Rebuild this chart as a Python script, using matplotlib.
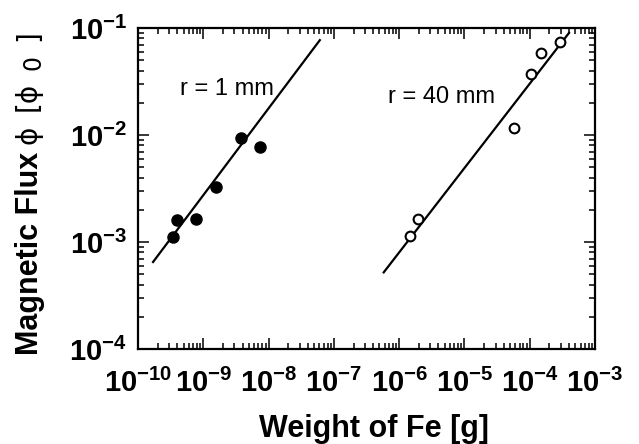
import matplotlib
matplotlib.use("Agg")
import matplotlib.pyplot as plt
from matplotlib.ticker import LogLocator, NullFormatter, FixedLocator

plt.rcParams['font.family'] = ['Liberation Sans', 'DejaVu Sans']
plt.rcParams['mathtext.fontset'] = 'custom'
plt.rcParams['mathtext.rm'] = 'Liberation Sans:bold'
plt.rcParams['mathtext.bf'] = 'Liberation Sans:bold'
plt.rcParams['mathtext.it'] = 'Liberation Sans:bold'

# data: r = 1 mm (filled circles)
w1 = [3.4e-10, 4.0e-10, 7.7e-10, 1.56e-9, 3.8e-9, 7.4e-9]
phi1 = [1.11e-3, 1.6e-3, 1.64e-3, 3.27e-3, 9.4e-3, 7.7e-3]
# fit line for r = 1 mm
fit1_w = [1.7e-10, 6.1e-8]
fit1_phi = [6.5e-4, 7.7e-2]

# data: r = 40 mm (open circles)
w40 = [1.46e-6, 1.94e-6, 5.7e-5, 1.04e-4, 1.48e-4, 2.9e-4]
phi40 = [1.14e-3, 1.64e-3, 1.16e-2, 3.7e-2, 5.8e-2, 7.4e-2]
fit40_w = [5.8e-7, 4.0e-4]
fit40_phi = [5.2e-4, 9.0e-2]

xticks = [1e-10, 1e-9, 1e-8, 1e-7, 1e-6, 1e-5, 1e-4, 1e-3]
xticklabels = [r'$10^{-10}$', r'$10^{-9}$', r'$10^{-8}$', r'$10^{-7}$',
               r'$10^{-6}$', r'$10^{-5}$', r'$10^{-4}$', r'$10^{-3}$']
yticks = [1e-4, 1e-3, 1e-2, 1e-1]
yticklabels = [r'$10^{-4}$', r'$10^{-3}$', r'$10^{-2}$', r'$10^{-1}$']

W, H = 639, 444
fig = plt.figure(figsize=(W/100, H/100), dpi=100)
ax = fig.add_axes([138/W, 1-349/H, (595-138)/W, (349-28)/H])
ax.set_xscale('log')
ax.set_yscale('log')
ax.set_xlim(1e-10, 1e-3)
ax.set_ylim(1e-4, 1e-1)

ax.plot(fit1_w, fit1_phi, color='black', lw=1.6)
ax.plot(fit40_w, fit40_phi, color='black', lw=1.6)
ax.plot(w1, phi1, 'o', color='black', ms=8, zorder=3)
ax.plot(w40, phi40, 'o', mfc='white', mec='black', mew=1.5, ms=7, zorder=3)

ax.text((180-138)/457, (349-89)/321, 'r = 1 mm', transform=ax.transAxes,
        fontsize=17, va='center', ha='left')
ax.text((388-138)/457, (349-97)/321, 'r = 40 mm', transform=ax.transAxes,
        fontsize=17, va='center', ha='left')

ax.xaxis.set_major_locator(FixedLocator(xticks))
ax.set_xticklabels(xticklabels)
ax.yaxis.set_major_locator(FixedLocator(yticks))
ax.set_yticklabels(yticklabels)
ax.xaxis.set_minor_locator(LogLocator(base=10, subs=range(2, 10), numticks=20))
ax.yaxis.set_minor_locator(LogLocator(base=10, subs=range(2, 10), numticks=20))
ax.xaxis.set_minor_formatter(NullFormatter())
ax.yaxis.set_minor_formatter(NullFormatter())

ax.tick_params(which='both', direction='in', top=True, right=True, width=1.1)
ax.tick_params(which='major', length=8, labelsize=21)
ax.tick_params(which='minor', length=4.5)
ax.tick_params(axis='x', which='major', pad=14)
ax.tick_params(axis='y', which='major', pad=8)
for s in ax.spines.values():
    s.set_linewidth(1.6)

# x label
fig.text(374/W, 1-429/H, 'Weight of Fe [g]', fontsize=22, fontweight='bold',
         ha='center', va='center')

# y label: bold part + regular symbol part
fig.text(30/W, 1-355/H, 'Magnetic Flux', rotation=90, fontsize=22,
         fontweight='bold', ha='center', va='bottom')
sym_parts = ['ϕ', '[ϕ', '0', ']']
sym_y = [135, 96, 63, 36]
sym_x = [28, 28, 33, 28]
sym_size = [20, 20, 17, 20]
for s, yy, xx, fs in zip(sym_parts, sym_y, sym_x, sym_size):
    fig.text(xx/W, 1-yy/H, s, rotation=90, fontsize=fs,
             family=['DejaVu Sans'], ha='center', va='center')

fig.savefig('out.png', dpi=100)
